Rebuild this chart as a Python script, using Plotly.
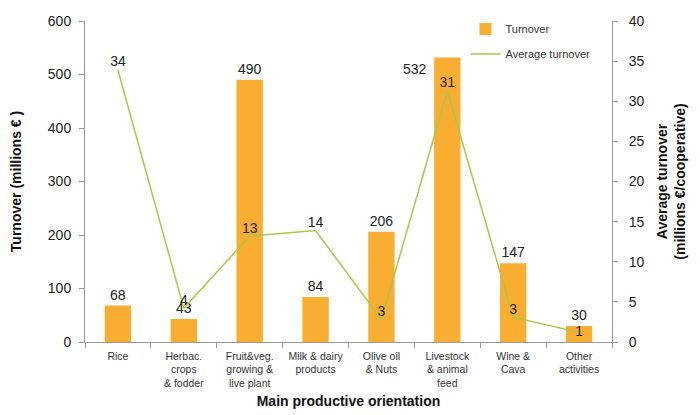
import plotly.graph_objects as go

categories = ["Rice", "Herbac.<br>crops<br>& fodder", "Fruit&veg.<br>growing &<br>live plant",
              "Milk & dairy<br>products", "Olive oil<br>& Nuts", "Livestock<br>& animal<br>feed",
              "Wine &<br>Cava", "Other<br>activities"]
turnover = [68, 43, 490, 84, 206, 532, 147, 30]
avg_turnover = [33.9, 4.2, 13.2, 13.9, 2.8, 31.3, 3.1, 1.2]
avg_labels = ["34", "4", "13", "14", "3", "31", "3", "1"]

bar_color = "#F9AE32"
line_color = "#A9C84A"
font_family = "Liberation Sans, Arial, sans-serif"

bar_text = [str(v) for v in turnover]
bar_text[5] = ""

fig = go.Figure()
fig.add_trace(go.Bar(
    x=categories, y=turnover, name="Turnover", legendgroup="a",
    marker=dict(color=bar_color, line=dict(width=0)),
    width=0.4, text=bar_text, textposition="outside",
    textfont=dict(size=14, color="#222"), cliponaxis=False,
))
fig.add_trace(go.Scatter(
    x=categories, y=avg_turnover, name="Average turnover", yaxis="y2", legendgroup="b",
    mode="lines+text", line=dict(color=line_color, width=1.5),
    text=avg_labels,
    textposition=["top center"] * 7 + ["middle center"],
    textfont=dict(size=14, color="#222"), cliponaxis=False,
))
fig.add_annotation(x=categories[5], y=turnover[5], text=str(turnover[5]),
                   xref="x", yref="y", showarrow=False, xshift=-32, yshift=-12,
                   font=dict(size=14, color="#222"))

fig.update_layout(
    width=692, height=407,
    margin=dict(l=77, r=88, t=7, b=73),
    paper_bgcolor="white", plot_bgcolor="white",
    font=dict(family=font_family, color="#222"),
    bargap=0.6,
    showlegend=True,
    legend=dict(x=0.722, y=1.02, xanchor="left", yanchor="top",
                font=dict(size=11, color="#333"), bgcolor="rgba(0,0,0,0)",
                tracegroupgap=6, itemwidth=30),
    xaxis=dict(
        range=[-0.5, 7.5], showline=True, linecolor="#999", linewidth=1,
        ticks="outside", tickson="boundaries", tickcolor="#999", ticklen=5,
        tickangle=0, automargin=False, ticklabelstandoff=4,
        tickfont=dict(size=10.5, color="#333"),
        title=dict(text="<b>Main productive orientation</b>", font=dict(size=14, color="#111"), standoff=8),
    ),
    yaxis=dict(
        range=[0, 600], dtick=100, showgrid=False, showline=True, linecolor="#999",
        ticks="outside", tickcolor="#999", ticklen=5, zeroline=False, automargin=False,
        ticklabelstandoff=5,
        tickfont=dict(size=14, color="#222"),
        title=dict(text="<b>Turnover (millions € )</b>", font=dict(size=14, color="#111"), standoff=26),
    ),
    yaxis2=dict(
        range=[0, 40], dtick=5, overlaying="y", side="right", showgrid=False,
        showline=True, linecolor="#999", ticks="outside", tickcolor="#999", ticklen=5,
        zeroline=False, automargin=False, ticklabelstandoff=8,
        tickfont=dict(size=14, color="#222"),
        title=dict(text="<b>Average turnover<br>(millions €/cooperative)</b>",
                   font=dict(size=14, color="#111"), standoff=13),
    ),
)

fig.write_html("out.html")
